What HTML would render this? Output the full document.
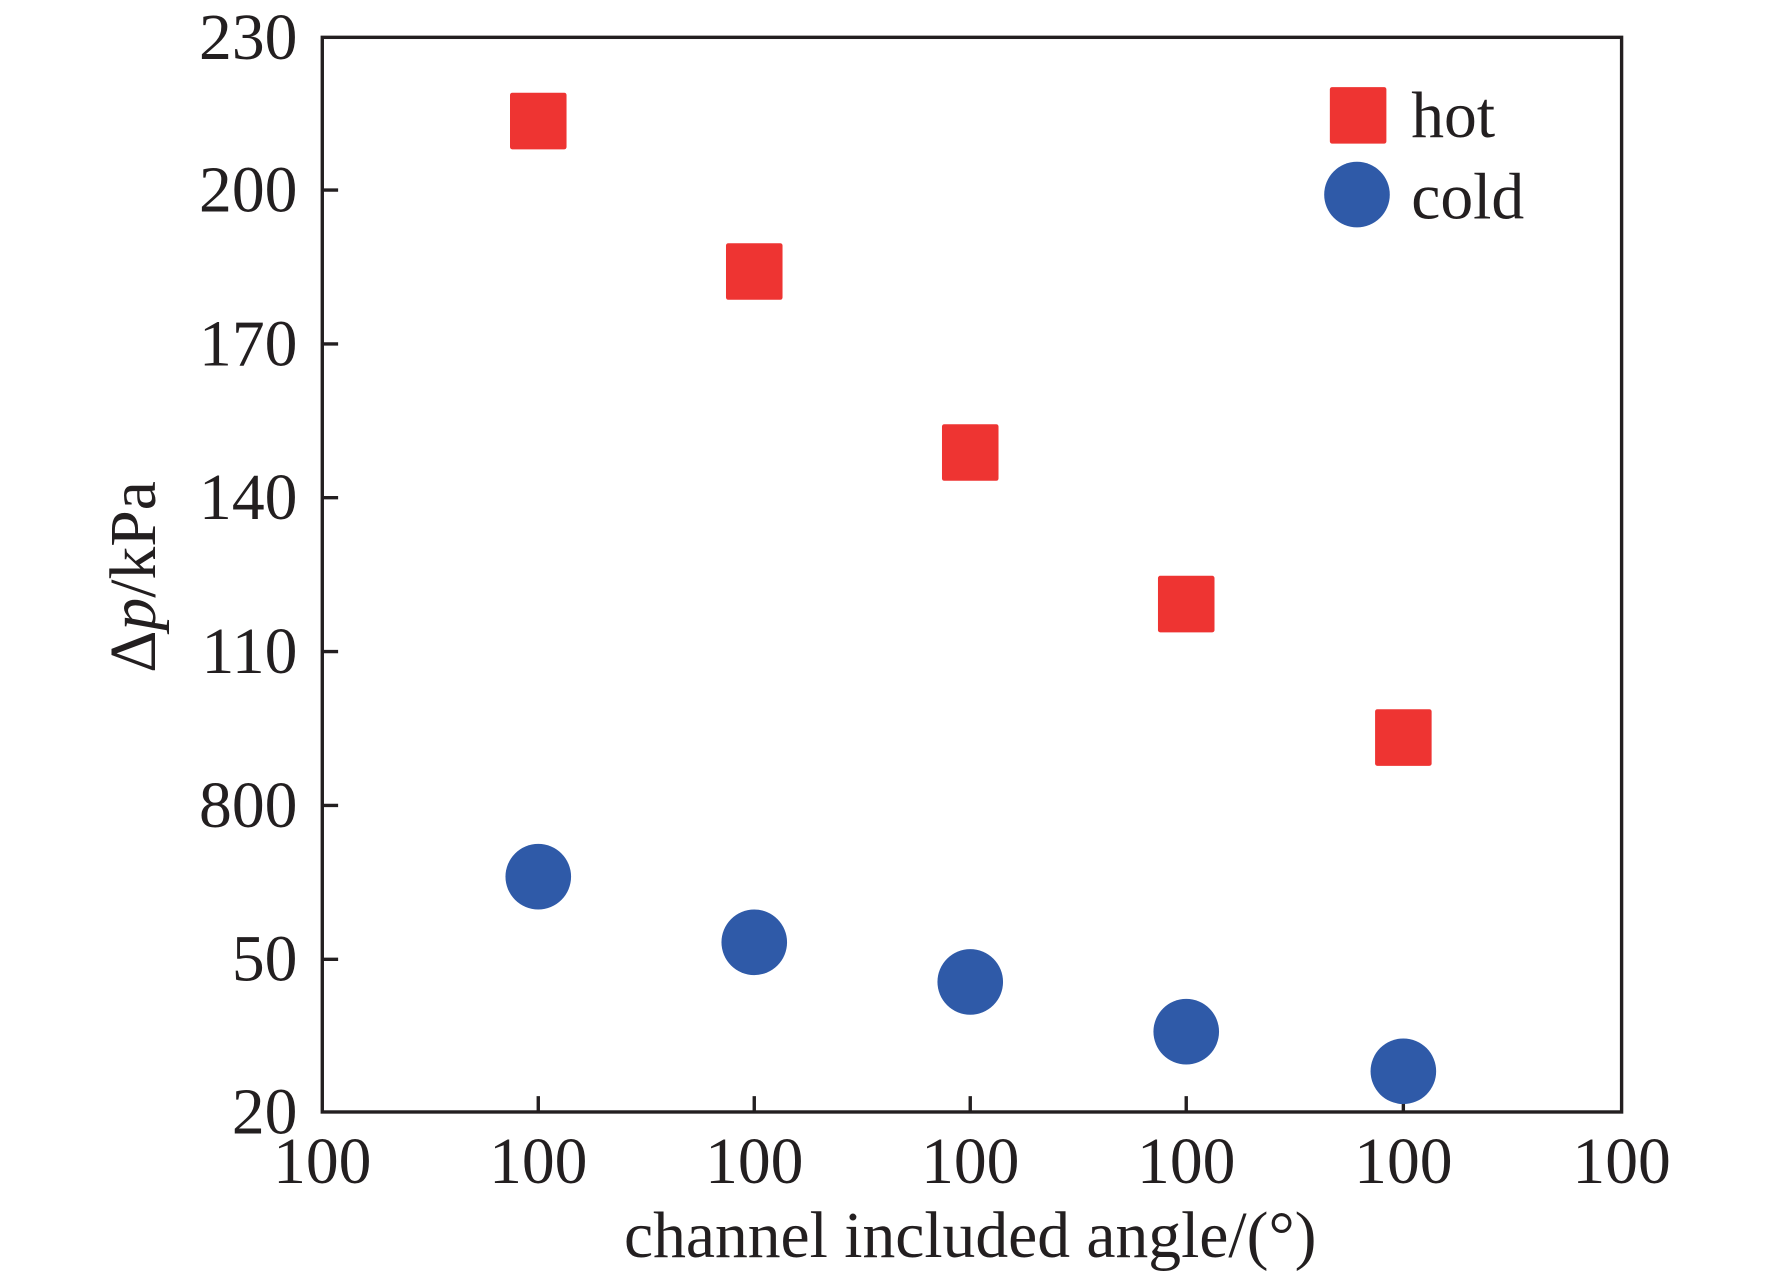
<!DOCTYPE html>
<html><head><meta charset="utf-8"><style>
html,body{margin:0;padding:0;background:#fff;}
svg{display:block;}
text{font-family:"Liberation Serif",serif;fill:#231f20;}
</style></head><body>
<svg width="1772" height="1276" viewBox="0 0 1567 1128" preserveAspectRatio="none" xmlns="http://www.w3.org/2000/svg">
<rect x="285" y="33" width="1149" height="950" fill="none" stroke="#231f20" stroke-width="3"/>
<g stroke="#231f20" stroke-width="3">
<line x1="285" y1="168" x2="299" y2="168"/><line x1="285" y1="304" x2="299" y2="304"/>
<line x1="285" y1="440" x2="299" y2="440"/><line x1="285" y1="576" x2="299" y2="576"/>
<line x1="285" y1="712" x2="299" y2="712"/><line x1="285" y1="848" x2="299" y2="848"/>
<line x1="476" y1="983" x2="476" y2="969"/><line x1="667" y1="983" x2="667" y2="969"/>
<line x1="858" y1="983" x2="858" y2="969"/><line x1="1049" y1="983" x2="1049" y2="969"/>
<line x1="1241" y1="983" x2="1241" y2="969"/>
</g>
<g font-size="58" text-anchor="end">
<text x="263" y="52">230</text><text x="263" y="187">200</text><text x="263" y="323">170</text>
<text x="263" y="459">140</text><text x="263" y="595">110</text><text x="263" y="731">800</text>
<text x="263" y="867">50</text><text x="263" y="1002">20</text>
</g>
<g font-size="58" text-anchor="middle">
<text x="285" y="1046">100</text><text x="476" y="1046">100</text><text x="667" y="1046">100</text>
<text x="858" y="1046">100</text><text x="1049" y="1046">100</text><text x="1241" y="1046">100</text>
<text x="1434" y="1046">100</text>
<text x="858" y="1111">channel included angle/(°)</text>
</g>
<text font-size="58" text-anchor="middle" transform="translate(137,510) rotate(-90)">Δ<tspan font-style="italic">p</tspan>/kPa</text>
<g fill="#ee3432">
<rect x="451" y="82" width="50" height="50" rx="2"/><rect x="642" y="215" width="50" height="50" rx="2"/>
<rect x="833" y="375" width="50" height="50" rx="2"/><rect x="1024" y="509" width="50" height="50" rx="2"/>
<rect x="1216" y="627" width="50" height="50" rx="2"/>
<rect x="1176" y="77" width="50" height="50" rx="2"/>
</g>
<g fill="#2f5aa8">
<circle cx="476" cy="775" r="29"/><circle cx="667" cy="833" r="29"/><circle cx="858" cy="868" r="29"/>
<circle cx="1049" cy="912" r="29"/><circle cx="1241" cy="947" r="29"/>
<circle cx="1200" cy="172" r="29"/>
</g>
<g font-size="58">
<text x="1248" y="121">hot</text><text x="1248" y="193">cold</text>
</g>
</svg>
</body></html>
